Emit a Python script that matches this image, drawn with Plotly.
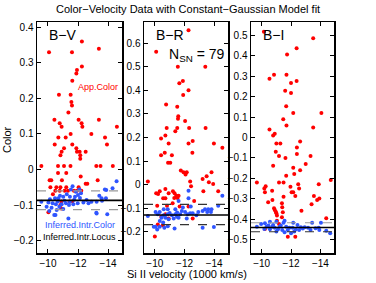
import plotly.graph_objects as go

# ---------------- data (velocity in 1000 km/s, colour in mag) ----------------
bv_red = [(12.26,0.36),(10.07,0.33),(11.6,0.33),(13.39,0.34),(12.26,0.29),(11.93,0.28),(11.89,0.27),
          (11.62,0.25),(10.73,0.21),(11.51,0.21),(11.56,0.19),(11.6,0.18),(11.36,0.16),(10.43,0.14),
          (12.04,0.14),(13.39,0.14),(10.78,0.13),(12.24,0.13),(10.91,0.12),(12.29,0.12),(14.59,0.12),
          (11.51,0.10),(12.89,0.10),(10.69,0.09),(11.18,0.09),(13.8,0.09),(10.45,0.07),(11.62,0.07),
          (13.93,0.07),(11.07,0.06),(11.89,0.06),(10.91,0.05),(10.83,0.04),(11.93,0.05),(12.11,0.05),
          (12.51,0.05),(12.15,0.04),(12.15,0.03),(9.56,0.01),(10.67,0.01),(11.07,0.01),(11.5,0.01),
          (13.22,0.01),(13.5,0.01),(14.32,0.01),(10.67,-0.01),(11.22,-0.01),(12.18,-0.02),(10.11,-0.03),
          (10.22,-0.03),(10.93,-0.03),(13.31,-0.03),(12.51,-0.04),(12.62,-0.04),(10.16,-0.05),(10.56,-0.05),
          (10.83,-0.05),(11.22,-0.05),(12.04,-0.05),(10.49,-0.06),(10.78,-0.06),(11.11,-0.06),(11.33,-0.06),
          (11.73,-0.06),(11.93,-0.06),(12.22,-0.06),(10.33,-0.07),(10.89,-0.09),(11.44,-0.09),(11.62,-0.09),
          (10.83,-0.10),(10.89,-0.11),(10.03,-0.12)]
bv_blue = [(14.57,-0.033),(14.3,-0.053),(13.79,-0.056),(11.64,-0.047),(11.53,-0.056),(12.09,-0.056),
           (11.86,-0.063),(12.2,-0.067),(11.25,-0.07),(10.8,-0.074),(11.02,-0.077),(11.46,-0.077),
           (11.8,-0.077),(12.13,-0.08),(10.47,-0.081),(10.69,-0.081),(10.13,-0.084),(13.42,-0.074),
           (13.57,-0.081),(13.86,-0.081),(12.57,-0.086),(12.9,-0.091),(13.24,-0.091),(10.03,-0.093),
           (10.31,-0.095),(10.53,-0.098),(10.91,-0.098),(11.2,-0.095),(11.46,-0.091),(11.69,-0.098),
           (11.98,-0.095),(12.36,-0.093),(9.91,-0.105),(10.24,-0.108),(10.76,-0.105),(11.02,-0.111),
           (10.58,-0.114),(10.09,-0.117),(10.42,-0.128),(13.24,-0.124),(13.95,-0.126),(11.36,-0.138),
           (9.56,-0.091),(13.22,-0.122),(13.88,-0.058),(10.5,-0.128),(11.1,-0.088),(11.75,-0.085),
           (12.0,-0.072),(10.65,-0.09),(11.4,-0.1),(12.7,-0.095),(13.6,-0.088)]

br_red = [(12.27,0.655),(10.09,0.564),(11.55,0.5),(13.4,0.5),(11.89,0.44),(11.65,0.43),(12.27,0.40),
          (11.91,0.38),(10.76,0.34),(11.51,0.33),(11.58,0.29),(11.56,0.28),(12.04,0.27),(10.8,0.24),
          (11.51,0.24),(12.31,0.24),(13.42,0.24),(10.71,0.208),(11.38,0.227),(10.42,0.196),(10.93,0.175),
          (12.27,0.175),(12.55,0.185),(13.98,0.175),(14.55,0.156),(10.42,0.125),(10.67,0.135),(11.15,0.125),
          (10.89,0.093),(11.04,0.093),(12.53,0.135),(11.93,0.053),(12.07,0.043),(11.75,0.06),(12.15,0.053),
          (13.82,0.053),(13.49,0.036),(13.22,0.024),(13.64,0.01),(13.93,0.003),(9.53,0.013),(12.38,0.013),
          (12.44,-0.007),(13.27,-0.028),(14.27,-0.028),(10.33,-0.028),(10.09,-0.037),(10.22,-0.04),
          (10.71,-0.018),(10.93,-0.037),(11.22,-0.028),(11.33,-0.037),(11.44,-0.047),(11.53,-0.057),
          (11.31,-0.057),(11.6,-0.047),(10.56,-0.058),(10.71,-0.058),(11.2,-0.079),(12.65,-0.069),
          (10.16,-0.09),(10.82,-0.09),(11.67,-0.093),(12.27,-0.093),(10.0,-0.22),(10.44,-0.136),
          (10.71,-0.126),(10.93,-0.144),(12.55,-0.144),(10.2,-0.169),(10.53,-0.172)]
br_blue = [(12.27,-0.026),(14.55,-0.047),(12.27,-0.058),(11.6,-0.069),(10.87,-0.104),(10.6,-0.104),
           (11.38,-0.104),(11.89,-0.097),(12.42,-0.093),(14.27,-0.09),(9.53,-0.133),(10.05,-0.116),
           (10.33,-0.116),(10.2,-0.126),(10.6,-0.13),(10.87,-0.126),(11.15,-0.13),(11.38,-0.126),
           (11.49,-0.136),(11.71,-0.126),(11.82,-0.112),(12.04,-0.116),(12.22,-0.126),(12.38,-0.121),
           (12.55,-0.121),(12.93,-0.116),(13.22,-0.112),(13.38,-0.104),(13.6,-0.104),(13.82,-0.104),
           (13.53,-0.116),(13.78,-0.116),(10.71,-0.14),(10.93,-0.147),(11.27,-0.144),(11.6,-0.14),
           (12.15,-0.144),(10.33,-0.154),(10.56,-0.161),(10.05,-0.179),(10.33,-0.179),(10.64,-0.183),
           (10.87,-0.176),(11.33,-0.186),(13.22,-0.183),(13.98,-0.18),(10.16,-0.19),(9.93,-0.179),
           (11.0,-0.12),(11.5,-0.118),(12.8,-0.13),(10.45,-0.14)]

bi_red = [(10.15,0.517),(13.51,0.486),(12.38,0.437),(11.73,0.406),(10.84,0.307),(11.69,0.307),
          (10.53,0.288),(12.38,0.276),(12.0,0.266),(11.6,0.229),(12.0,0.218),(11.67,0.153),(12.15,0.12),
          (14.07,0.12),(11.47,0.089),(11.69,0.059),(13.51,0.049),(10.53,0.039),(10.89,0.018),(10.78,0.01),
          (11.0,-0.029),(11.27,-0.029),(12.62,-0.02),(12.4,-0.049),(12.4,-0.081),(13.33,-0.09),
          (10.96,-0.07),(11.18,-0.09),(11.62,-0.1),(10.78,-0.138),(13.0,-0.13),(12.15,-0.148),
          (12.62,-0.16),(12.22,-0.179),(11.67,-0.187),(9.67,-0.22),(11.18,-0.22),(11.49,-0.22),
          (12.49,-0.229),(12.55,-0.249),(13.89,-0.229),(14.71,-0.208),(10.27,-0.238),(10.18,-0.249),
          (10.22,-0.268),(10.71,-0.26),(11.96,-0.241),(12.04,-0.268),(12.15,-0.268),(10.44,-0.317),
          (10.73,-0.306),(11.49,-0.29),(12.29,-0.286),(13.56,-0.286),(13.78,-0.306),(13.93,-0.298),
          (13.4,-0.327),(12.71,-0.358),(10.84,-0.346),(10.89,-0.355),(10.96,-0.363),(11.0,-0.371),
          (11.04,-0.382),(11.4,-0.341),(11.44,-0.366),(11.38,-0.322),(14.4,-0.395),(11.38,-0.39),
          (11.04,-0.407),(11.18,-0.423),(10.22,-0.447),(11.78,-0.485),(12.29,-0.485)]
bi_blue = [(9.67,-0.436),(9.96,-0.423),(10.22,-0.42),(10.56,-0.412),(11.0,-0.412),(11.49,-0.417),
           (11.56,-0.407),(12.15,-0.417),(12.44,-0.428),(13.44,-0.417),(14.04,-0.417),(10.33,-0.436),
           (10.71,-0.436),(10.89,-0.441),(11.22,-0.436),(11.67,-0.436),(11.89,-0.441),(12.11,-0.441),
           (12.67,-0.439),(12.93,-0.439),(13.16,-0.441),(13.67,-0.444),(13.89,-0.441),(10.18,-0.447),
           (10.56,-0.449),(11.11,-0.449),(11.4,-0.452),(11.78,-0.452),(12.33,-0.449),(12.55,-0.452),
           (13.33,-0.452),(13.93,-0.452),(11.0,-0.46),(11.56,-0.463),(12.22,-0.46),(12.0,-0.468),
           (14.4,-0.456),(14.67,-0.468),(10.78,-0.428),(10.45,-0.43),(11.3,-0.43),(12.8,-0.445)]

locus = [-0.087, -0.129, -0.440]           # solid: inferred intrinsic locus
band_hi = [-0.060, -0.084, -0.417]         # upper dashed
band_lo = [-0.113, -0.170, -0.461]         # lower dashed
band_hi_col = ["#9a9a9a", "#333333", "#9a9a9a"]
band_lo_col = ["#9a9a9a", "#333333", "#333333"]

panel_names = ["B\u2212V", "B\u2212R", "B\u2212I"]
y_ranges = [[-0.235, 0.415], [-0.29, 0.69], [-0.565, 0.565]]
y_ticks = [[-0.2, -0.1, 0, 0.1, 0.2, 0.3, 0.4],
           [-0.2, -0.1, 0, 0.1, 0.2, 0.3, 0.4, 0.5, 0.6],
           [-0.5, -0.4, -0.3, -0.2, -0.1, 0, 0.1, 0.2, 0.3, 0.4, 0.5]]
x_ticks = [-10, -12, -14]
x_range = [-9.27, -14.93]

def lab(v):
    s = ("%g" % v)
    return s.replace("-", "\u2212")

reds = [bv_red, br_red, bi_red]
blues = [bv_blue, br_blue, bi_blue]

W, H = 376, 283
ml, mr, mt, mb = 37, 42, 22, 30
pw = W - ml - mr
ph = H - mt - mb
px_domains = [(37, 122), (144, 228), (251, 334)]
domains = [[(a - ml) / pw, (b - ml) / pw] for a, b in px_domains]

fig = go.Figure()
font_fam = "Liberation Sans, Arial, sans-serif"

for i in range(3):
    xa = "x" if i == 0 else "x%d" % (i + 1)
    ya = "y" if i == 0 else "y%d" % (i + 1)
    fig.add_trace(go.Scatter(x=[-p[0] for p in reds[i]], y=[p[1] for p in reds[i]], mode="markers",
                             marker=dict(color="#ff0000", size=4), xaxis=xa, yaxis=ya, showlegend=False,
                             hoverinfo="skip"))
    fig.add_trace(go.Scatter(x=[-p[0] for p in blues[i]], y=[p[1] for p in blues[i]], mode="markers",
                             marker=dict(color="#2f55ff", size=4), xaxis=xa, yaxis=ya, showlegend=False,
                             hoverinfo="skip"))
    xref_dom = xa + " domain"
    fig.add_shape(type="line", xref=xref_dom, yref=ya, x0=0, x1=1, y0=band_hi[i], y1=band_hi[i],
                  line=dict(color=band_hi_col[i], width=1.2, dash="dash"))
    fig.add_shape(type="line", xref=xref_dom, yref=ya, x0=0, x1=1, y0=band_lo[i], y1=band_lo[i],
                  line=dict(color=band_lo_col[i], width=1.2, dash="dash"))
    fig.add_shape(type="line", xref=xref_dom, yref=ya, x0=0, x1=1, y0=locus[i], y1=locus[i],
                  line=dict(color="black", width=1.6))
    axcommon = dict(showline=True, linecolor="black", linewidth=1.5, mirror="ticks", ticks="inside",
                    ticklen=4, tickwidth=1, tickcolor="black", showgrid=False, zeroline=False,
                    automargin=False, tickfont=dict(family=font_fam, size=10, color="black"))
    layout_x = dict(domain=domains[i], range=x_range, tickvals=x_ticks, ticktext=[lab(t) for t in x_ticks],
                    anchor=ya, **axcommon)
    layout_y = dict(domain=[0, 1], range=y_ranges[i], tickvals=y_ticks[i],
                    ticktext=[lab(t) for t in y_ticks[i]], anchor=xa, **axcommon)
    fig.update_layout(**{("xaxis" if i == 0 else "xaxis%d" % (i + 1)): layout_x,
                         ("yaxis" if i == 0 else "yaxis%d" % (i + 1)): layout_y})
    fig.add_annotation(text=panel_names[i], xref=xref_dom, yref=ya + " domain", x=0.12, y=0.985,
                       xanchor="left", yanchor="top", showarrow=False,
                       font=dict(family=font_fam, size=14, color="black"))

fig.add_annotation(text="N<sub>SN</sub> = 79", xref="x2 domain", yref="y2 domain", x=0.27, y=0.905,
                   xanchor="left", yanchor="top", showarrow=False,
                   font=dict(family=font_fam, size=14, color="black"))
fig.add_annotation(text="App.Color", xref="x domain", yref="y domain", x=0.46, y=(253 - 86.5) / ph,
                   xanchor="left", yanchor="middle", showarrow=False,
                   font=dict(family=font_fam, size=9, color="#ff0000"))
fig.add_annotation(text="Inferred.Intr.Color", xref="x domain", yref="y domain", x=0.5, y=(253 - 225) / ph,
                   xanchor="center", yanchor="middle", showarrow=False,
                   font=dict(family=font_fam, size=9, color="#2f55ff"))
fig.add_annotation(text="Inferred.Intr.Locus", xref="x domain", yref="y domain", x=0.5, y=(253 - 237) / ph,
                   xanchor="center", yanchor="middle", showarrow=False,
                   font=dict(family=font_fam, size=9, color="black"))
fig.add_annotation(text="Color\u2212Velocity Data with Constant\u2212Gaussian Model fit", xref="paper",
                   yref="paper", x=(188 - ml) / pw, y=1 + (mt - 9) / ph, xanchor="center",
                   yanchor="middle", showarrow=False, font=dict(family=font_fam, size=11, color="black"))
fig.add_annotation(text="Si II velocity (1000 km/s)", xref="paper", yref="paper", x=(187 - ml) / pw,
                   y=-(273.5 - (H - mb)) / ph, xanchor="center", yanchor="middle", showarrow=False,
                   font=dict(family=font_fam, size=11, color="black"))
fig.add_annotation(text="Color", xref="paper", yref="paper", x=-(ml - 7) / pw, y=(H - mb - 140) / ph,
                   xanchor="center", yanchor="middle", showarrow=False, textangle=-90,
                   font=dict(family=font_fam, size=11, color="black"))

fig.update_layout(template="none", width=W, height=H, margin=dict(l=ml, r=mr, t=mt, b=mb, pad=0),
                  paper_bgcolor="white", plot_bgcolor="white", showlegend=False, hovermode=False)
fig.write_html("out.html", config={"displayModeBar": False, "staticPlot": True},
               post_script="document.body.style.margin='0';document.body.style.overflow='hidden';")
